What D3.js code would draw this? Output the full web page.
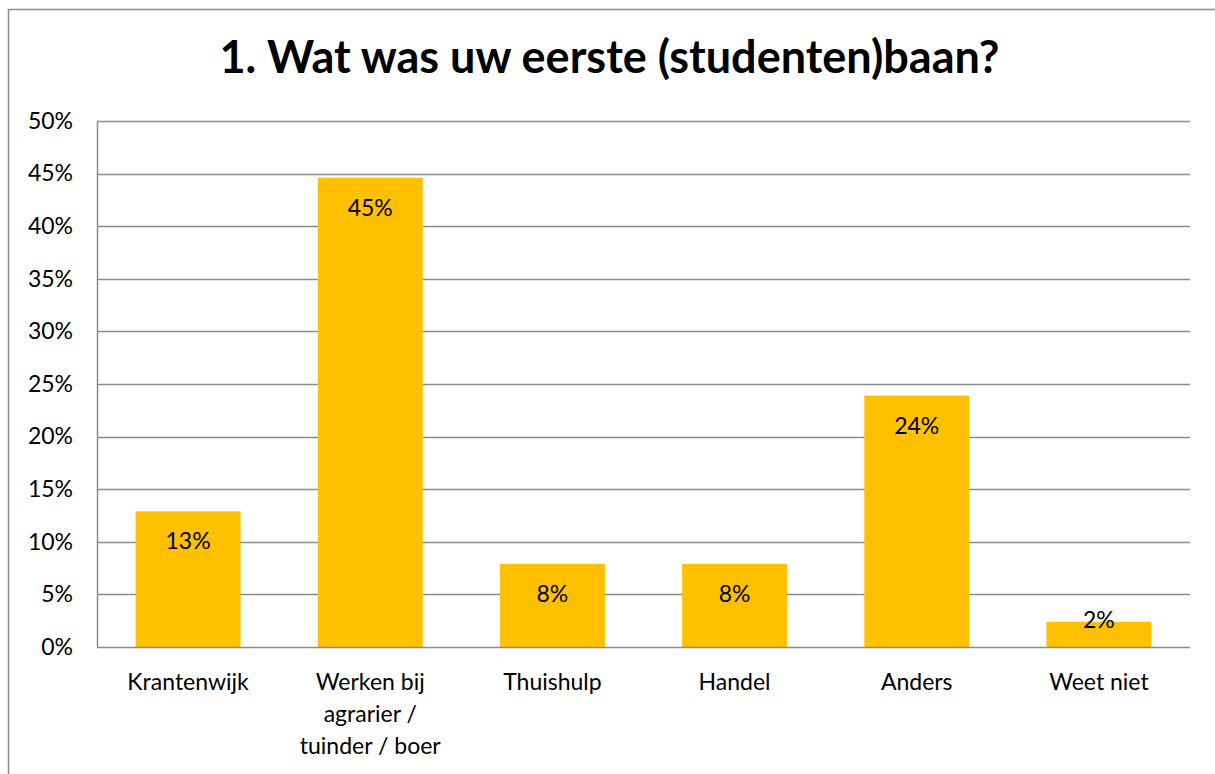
<!DOCTYPE html>
<meta charset="utf-8">
<script src="https://d3js.org/d3.v7.min.js"></script>
<style>
  body { margin: 0; background: #fff; }
  text { font-family: Lato, "Open Sans", sans-serif; fill: #000; }
</style>
<div id="chart"></div>
<script>
    const categories = [
        ["Krantenwijk"],
        ["Werken bij", "agrarier /", "tuinder / boer"],
        ["Thuishulp"],
        ["Handel"],
        ["Anders"],
        ["Weet niet"]
    ];
    const values = [0.129, 0.446, 0.079, 0.079, 0.239, 0.024];
    const valueLabels = ["13%", "45%", "8%", "8%", "24%", "2%"];
    const yTicks = [0, 0.05, 0.1, 0.15, 0.2, 0.25, 0.3, 0.35, 0.4, 0.45, 0.5];
    const title = "1. Wat was uw eerste (studenten)baan?";

    const W = 1215, H = 774;
    const margin = {top: 121, right: 25, bottom: 127, left: 97},
        width = W - margin.left - margin.right,
        height = H - margin.top - margin.bottom;
    const fs = "23px";

    const root = d3.select("#chart")
        .append("svg")
            .attr("width", W)
            .attr("height", H);

    // outer chart border (runs off the right and bottom edge)
    root.append("rect")
        .attr("x", 8.5).attr("y", 9.5)
        .attr("width", W + 20).attr("height", H + 20)
        .attr("fill", "white")
        .attr("stroke", "#8c8c8c")
        .attr("stroke-width", 1.5);

    root.append("text")
        .attr("x", W / 2 + 2)
        .attr("y", 73)
        .attr("text-anchor", "middle")
        .style("font-size", "45px")
        .style("font-weight", "bold")
        .text(title);

    const svg = root.append("g")
        .attr("transform", `translate(${margin.left},${margin.top})`);

    const idx = categories.map((d, i) => i);
    const x = d3.scaleBand()
        .domain(idx)
        .range([0, width])
        .paddingInner(0.424)
        .paddingOuter(0.212);

    const y = d3.scaleLinear()
        .domain([0, 0.5])
        .range([height, 0]);

    // gridlines
    svg.append("g")
        .selectAll("line")
        .data(yTicks.slice(1))
        .join("line")
            .attr("x1", 0).attr("x2", width)
            .attr("y1", d => Math.round(y(d)) + 0.5)
            .attr("y2", d => Math.round(y(d)) + 0.5)
            .attr("stroke", "#8c8c8c")
            .attr("stroke-width", 1.5);

    // y axis
    const yAxis = svg.append("g")
        .call(d3.axisLeft(y).tickValues(yTicks).tickFormat(d3.format(".0%")).tickSize(0).tickPadding(24));
    yAxis.select(".domain").attr("stroke", "#8c8c8c").attr("stroke-width", 1.5);
    yAxis.selectAll("text").style("font-size", fs).style("font-family", "Lato, 'Open Sans', sans-serif").attr("fill", "#000");

    // bars
    svg.selectAll("rect.bar")
        .data(values)
        .join("rect")
            .attr("class", "bar")
            .attr("x", (d, i) => x(i))
            .attr("y", d => y(d))
            .attr("width", x.bandwidth())
            .attr("height", d => height - y(d))
            .attr("fill", "#FFC000");

    // value labels (inside end)
    svg.selectAll("text.val")
        .data(values)
        .join("text")
            .attr("class", "val")
            .attr("x", (d, i) => x(i) + x.bandwidth() / 2)
            .attr("y", d => (height - y(d) > 60 ? y(d) + 30 : y(d) - 2))
            .attr("dy", "0.35em")
            .attr("text-anchor", "middle")
            .style("font-size", fs)
            .text((d, i) => valueLabels[i]);

    // x axis
    svg.append("line")
        .attr("x1", 0).attr("x2", width)
        .attr("y1", height + 0.5).attr("y2", height + 0.5)
        .attr("stroke", "#8c8c8c")
        .attr("stroke-width", 1.5);

    const xLabels = svg.append("g")
        .selectAll("text")
        .data(categories)
        .join("text")
            .attr("text-anchor", "middle")
            .attr("transform", (d, i) => `translate(${x(i) + x.bandwidth() / 2},${height + 43})`)
            .style("font-size", fs);
    xLabels.selectAll("tspan")
        .data(d => d)
        .join("tspan")
            .attr("x", 0)
            .attr("y", (d, i) => i * 32)
            .text(d => d);
</script>
